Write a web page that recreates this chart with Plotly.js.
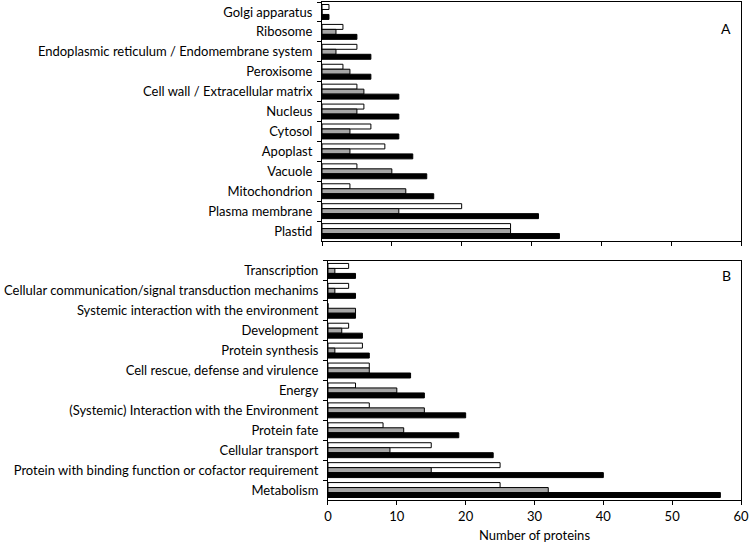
<!DOCTYPE html>
<html>
<head>
<meta charset="utf-8">
<script src="https://cdn.plot.ly/plotly-3.0.1.min.js"></script>
<style>html,body{margin:0;padding:0;background:#fff;}#chart{width:750px;height:543px;}</style>
</head>
<body>
<div id="chart"></div>
<script>
// Panel A: subcellular localisation
var topCats = ['Golgi apparatus','Ribosome','Endoplasmic reticulum / Endomembrane system','Peroxisome','Cell wall / Extracellular matrix','Nucleus','Cytosol','Apoplast','Vacuole','Mitochondrion','Plasma membrane','Plastid'];
var topWhite = [1,3,5,3,5,6,7,9,5,4,20,27];
var topGrey  = [0,2,2,4,6,5,4,4,10,12,11,27];
var topBlack = [1,5,7,7,11,11,11,13,15,16,31,34];

// Panel B: functional categories
var botCats = ['Transcription','Cellular communication/signal transduction mechanims','Systemic interaction with the environment','Development','Protein synthesis','Cell rescue, defense and virulence','Energy','(Systemic) Interaction with the Environment','Protein fate','Cellular transport','Protein with binding function or cofactor requirement','Metabolism'];
var botWhite = [3,3,0,3,5,6,4,6,8,15,25,25];
var botGrey  = [1,1,4,2,1,6,10,14,11,9,15,32];
var botBlack = [4,4,4,5,6,12,14,20,19,24,40,57];

var xTicks = [0,10,20,30,40,50,60];

var fills = ['#ffffff','#a6a6a6','#000000'];
function mk(x, y, i, xa, ya){
  return {type:'bar', orientation:'h', x:x, y:y, xaxis:xa, yaxis:ya,
    marker:{color:fills[i], line:{color:'#000', width:1}}, showlegend:false, hoverinfo:'skip'};
}
var data = [
  mk(topWhite, topCats, 0, 'x2', 'y2'),
  mk(topGrey, topCats, 1, 'x2', 'y2'),
  mk(topBlack, topCats, 2, 'x2', 'y2'),
  mk(botWhite, botCats, 0, 'x', 'y'),
  mk(botGrey, botCats, 1, 'x', 'y'),
  mk(botBlack, botCats, 2, 'x', 'y')
];
var fnt = {family:'Lato, "Open Sans", sans-serif', size:13, color:'#000'};
var yCommon = {type:'category', autorange:'reversed', showline:true, linecolor:'#000', linewidth:1, mirror:true,
  ticks:'outside', tickson:'boundaries', ticklen:4, tickcolor:'#000', showgrid:false, zeroline:false, tickfont:fnt,
  ticklabelstandoff:6};
var layout = {
  width:750, height:543,
  margin:{l:322, r:9, t:2, b:43},
  paper_bgcolor:'#fff', plot_bgcolor:'#fff',
  barmode:'group', bargap:0.25, bargroupgap:0,
  font:fnt,
  xaxis:{domain:[0.0143,1], anchor:'y', range:[0,60], tickvals:xTicks, ticks:'outside', ticklen:4, tickcolor:'#000',
    showline:true, linecolor:'#000', linewidth:1, mirror:true, showgrid:false, zeroline:false, tickfont:fnt,
    title:{text:'Number of proteins', font:fnt, standoff:8}},
  yaxis:Object.assign({domain:[0,0.48], anchor:'x'}, yCommon),
  xaxis2:{domain:[0,1], anchor:'y2', range:[0,60], tickvals:xTicks, ticks:'outside', ticklen:4, tickcolor:'#000',
    showline:true, linecolor:'#000', linewidth:1, mirror:true, showgrid:false, zeroline:false, showticklabels:false},
  yaxis2:Object.assign({domain:[0.52,1], anchor:'x2'}, yCommon),
  annotations:[
    {text:'A', xref:'paper', yref:'paper', x:0.981, y:0.968, showarrow:false, font:{family:'Lato, sans-serif', size:14, color:'#000'}},
    {text:'B', xref:'paper', yref:'paper', x:0.981, y:0.450, showarrow:false, font:{family:'Lato, sans-serif', size:14, color:'#000'}}
  ]
};
Plotly.newPlot('chart', data, layout, {displayModeBar:false, staticPlot:true});
</script>
</body>
</html>
